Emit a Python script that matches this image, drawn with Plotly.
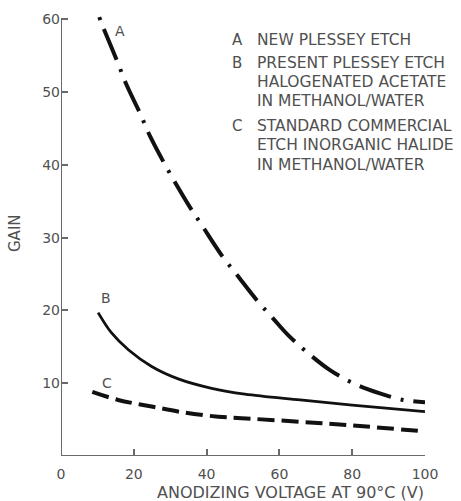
import plotly.graph_objects as go

# Gain vs anodizing voltage for three etch processes
volt_a = [10.5, 11.5, 15.3, 18.0, 21.7, 24.5, 28.6, 31.8, 35.4, 38.7, 44.1, 48.3,
          53.8, 57.9, 62.4, 67.5, 73.9, 80.3, 87.6, 94.0, 100]
gain_a = [60.3, 59.0, 54.4, 51.0, 47.1, 43.9, 40.0, 37.2, 34.2, 31.7, 27.6, 24.9,
          21.4, 19.1, 16.6, 14.3, 11.8, 10.0, 8.6, 7.7, 7.4]

volt_b = [10.2, 13.9, 18.5, 24.9, 32.2, 41.4, 50.5, 65.7, 80, 100]
gain_b = [19.7, 16.9, 14.6, 12.3, 10.6, 9.3, 8.5, 7.7, 7.0, 6.1]

volt_c = [8.6, 15.7, 24.9, 34.1, 43.2, 49.6, 65.7, 80, 99.5]
gain_c = [8.8, 7.7, 6.8, 5.95, 5.4, 5.2, 4.7, 4.2, 3.4]

x_ticks = [0, 20, 40, 60, 80, 100]
y_ticks = [10, 20, 30, 40, 50, 60]

legend_lines = [
    ("A", ["NEW PLESSEY ETCH"]),
    ("B", ["PRESENT PLESSEY ETCH", "HALOGENATED ACETATE", "IN METHANOL/WATER"]),
    ("C", ["STANDARD COMMERCIAL", "ETCH INORGANIC HALIDE", "IN METHANOL/WATER"]),
]

W, H = 461, 501
L, R, T, B = 61, 36, 12, 45
INK = "#111111"
GREY = "#505050"
AXIS = "#6a6a6a"
FONT = "DejaVu Sans"


def paper(xp, yp):
    """Pixel position in the page -> paper coordinates."""
    return dict(xref="paper", yref="paper",
                x=(xp - L) / (W - L - R), y=(H - B - yp) / (H - T - B))


fig = go.Figure()
fig.add_trace(go.Scatter(x=volt_a, y=gain_a, mode="lines", line_shape="spline",
                         line=dict(color=INK, width=4, dash="3px,10px,33px,10px")))
fig.add_trace(go.Scatter(x=volt_b, y=gain_b, mode="lines", line_shape="spline",
                         line=dict(color=INK, width=2.8)))
fig.add_trace(go.Scatter(x=volt_c, y=gain_c, mode="lines", line_shape="spline",
                         line=dict(color=INK, width=4, dash="17px,7px")))

ann = []
# curve letters
for letter, (xp, yp) in zip("ABC", [(120, 31), (106, 298), (107, 383)]):
    ann.append(dict(text=letter, showarrow=False, xanchor="center", yanchor="middle",
                    font=dict(family=FONT, size=14, color=GREY), **paper(xp, yp)))

# key text block
rows_y = [[40], [63, 82, 101], [126, 145, 165]]
for (letter, lines), ys in zip(legend_lines, rows_y):
    ann.append(dict(text=letter, showarrow=False, xanchor="left", yanchor="middle",
                    font=dict(family=FONT, size=15, color=GREY), **paper(230, ys[0])))
    for line, yp in zip(lines, ys):
        ann.append(dict(text=line, showarrow=False, xanchor="left", yanchor="middle",
                        font=dict(family=FONT, size=15.5, color=GREY), **paper(255, yp)))

# axis titles
ann.append(dict(text="ANODIZING VOLTAGE AT 90°C (V)", showarrow=False,
                xanchor="center", yanchor="middle",
                font=dict(family=FONT, size=16, color=GREY), **paper(290, 493)))
ann.append(dict(text="GAIN", showarrow=False, textangle=-90,
                xanchor="center", yanchor="middle",
                font=dict(family=FONT, size=15, color=GREY), **paper(15, 233)))

fig.update_layout(
    width=W, height=H, autosize=False,
    margin=dict(l=L, r=R, t=T, b=B, pad=0),
    paper_bgcolor="white", plot_bgcolor="white",
    showlegend=False,
    annotations=ann,
    shapes=[
        dict(type="line", xref="x", yref="y", x0=0, x1=0, y0=0, y1=60,
             line=dict(color=AXIS, width=2), layer="below"),
        dict(type="line", xref="x", yref="y", x0=0, x1=100, y0=0, y1=0,
             line=dict(color=AXIS, width=2), layer="below"),
    ],
    xaxis=dict(range=[0, 100], tickvals=x_ticks, ticktext=[str(v) for v in x_ticks],
               ticks="inside", ticklen=7, tickwidth=1.5, tickcolor=AXIS,
               ticklabelstandoff=8,
               showgrid=False, zeroline=False, showline=False,
               tickfont=dict(family=FONT, size=14, color=GREY)),
    yaxis=dict(range=[0, 61], tickvals=y_ticks, ticktext=[str(v) for v in y_ticks],
               ticks="inside", ticklen=7, tickwidth=1.5, tickcolor=AXIS,
               showgrid=False, zeroline=False, showline=False,
               tickfont=dict(family=FONT, size=14, color=GREY)),
)

fig.write_html("out.html")
